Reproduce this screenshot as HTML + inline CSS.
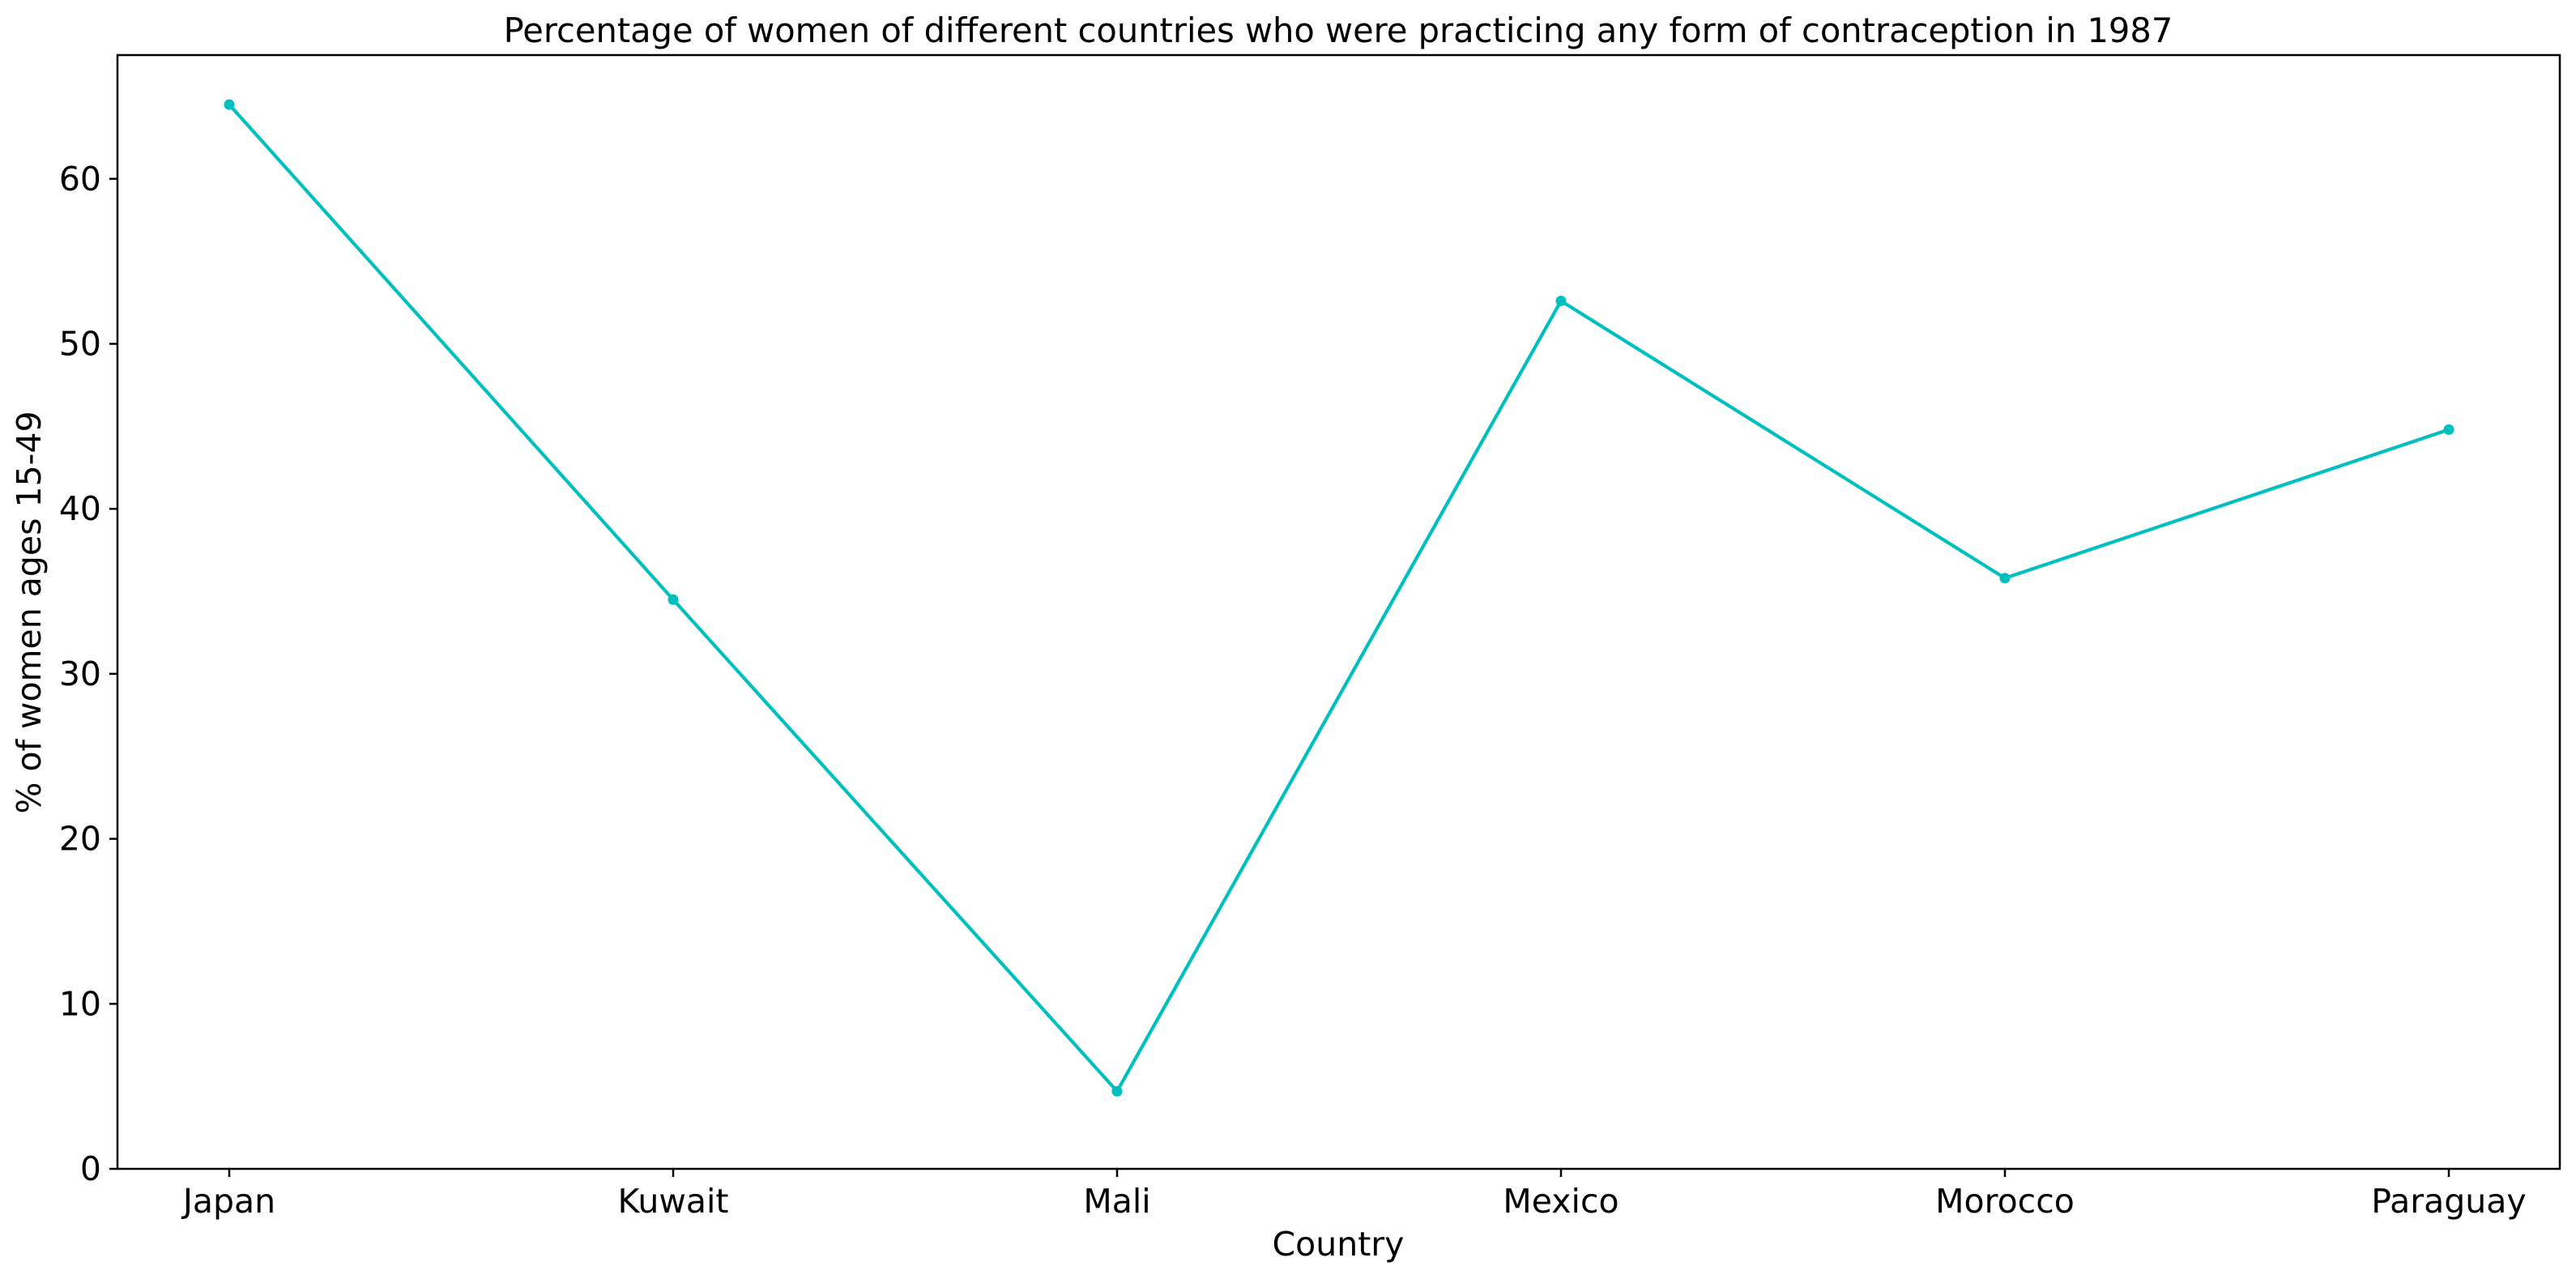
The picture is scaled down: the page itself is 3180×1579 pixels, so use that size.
<!DOCTYPE html>
<html><head><meta charset="utf-8"><style>
html,body{margin:0;padding:0;background:#fff;}
svg{display:block;font-family:"DejaVu Sans","Liberation Sans",sans-serif;}
</style></head><body>
<svg id="chart" width="3180" height="1579" viewBox="0 0 3180 1579" xmlns="http://www.w3.org/2000/svg">
<rect width="3180" height="1579" fill="#fff"/>
<text x="1652" y="52" font-size="41.6" text-anchor="middle">Percentage of women of different countries who were practicing any form of contraception in 1987</text>
<g id="yticks"></g><g id="xticks"></g>
<g id="series"></g>
<rect x="145" y="68" width="3015" height="1375" fill="none" stroke="#000" stroke-width="2.5"/>
<text x="1652" y="1550" font-size="41" text-anchor="middle">Country</text>
<text transform="translate(50,756) rotate(-90)" font-size="41" text-anchor="middle">% of women ages 15-49</text>
</svg>
<script>
const categories = ["Japan","Kuwait","Mali","Mexico","Morocco","Paraguay"];
const values = [64.5, 34.5, 4.7, 52.6, 35.8, 44.8];
const yTicks = [0,10,20,30,40,50,60];
const NS="http://www.w3.org/2000/svg";
const L=145,R=3160,T=68,B=1443,yMax=67.5;
const x=i=>283+i*(3023-283)/(categories.length-1);
const y=v=>B-(v/yMax)*(B-T);
function mk(tag,attrs,parent){const e=document.createElementNS(NS,tag);for(const k in attrs)e.setAttribute(k,attrs[k]);parent.appendChild(e);return e;}
const yg=document.getElementById('yticks'),xg=document.getElementById('xticks'),sg=document.getElementById('series');
yTicks.forEach(t=>{
  const ln=mk('line',{x1:L-10,x2:L,y1:y(t),y2:y(t),stroke:'#000','stroke-width':2.5},yg);
  
  
  const tx=mk('text',{x:L-20,y:y(t)+14,'font-size':41,'text-anchor':'end'},yg);
  tx.textContent=t;
  
  
});
categories.forEach((c,i)=>{
  const ln=mk('line',{x1:x(i),x2:x(i),y1:B,y2:B+10,stroke:'#000','stroke-width':2.5},xg);
  
  
  const tx=mk('text',{x:x(i),y:1497,'font-size':41,'text-anchor':'middle'},xg);
  tx.textContent=c;
  
  
});
const pl=mk('polyline',{points:values.map((v,i)=>x(i)+','+y(v)).join(' '),fill:'none',stroke:'#00bfbf','stroke-width':4.2,'stroke-linejoin':'round'},sg);


values.forEach((v,i)=>{
  const c=mk('circle',{cx:x(i),cy:y(v),r:6.5,fill:'#00bfbf'},sg);
  
  
});
</script>
</body></html>
